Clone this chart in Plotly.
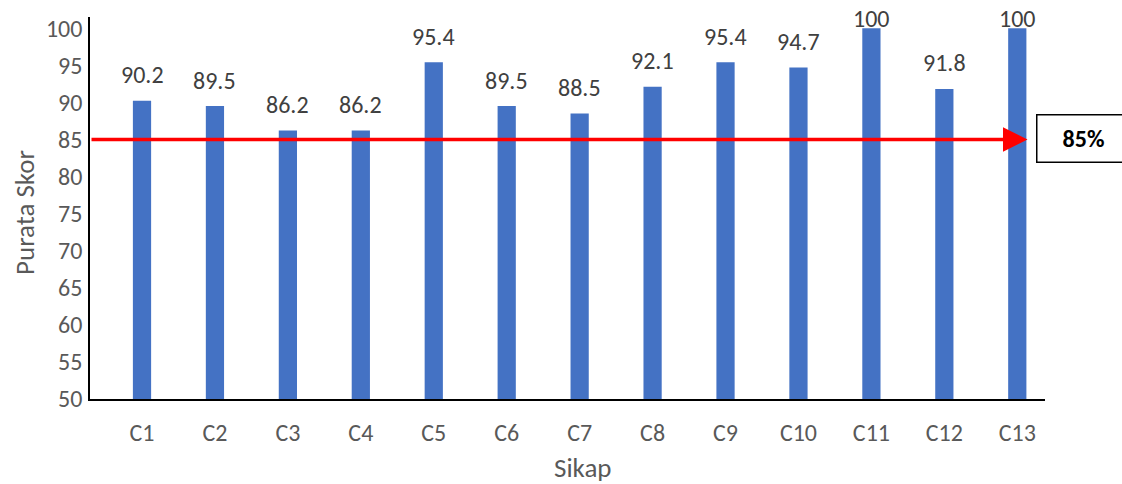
import plotly.graph_objects as go

categories = ["C1", "C2", "C3", "C4", "C5", "C6", "C7", "C8", "C9", "C10", "C11", "C12", "C13"]
scores = [90.2, 89.5, 86.2, 86.2, 95.4, 89.5, 88.5, 92.1, 95.4, 94.7, 100, 91.8, 100]
target = 85
target_label = "85%"
x_title = "Sikap"
y_title = "Purata Skor"

FONT = "Calibri, Carlito, 'Liberation Sans', Arial, sans-serif"
GREY = "#595959"

W, H = 1122, 484
L, R, T, B = 90, 77, 17, 85
plot_w = W - L - R
plot_h = H - T - B
y_lo, y_hi = 50, 101.5
px_per_unit = plot_h / (y_hi - y_lo)

x_lo, x_hi = -0.713, 12.38


def paper_x(px):
    return (px - L) / plot_w


def paper_y(py):
    return (H - B - py) / plot_h


fig = go.Figure()
fig.add_trace(go.Bar(
    x=list(range(len(categories))),
    y=scores,
    width=0.25,
    marker=dict(color="#4472C4", line=dict(width=0)),
    hoverinfo="x+y",
))

# value labels above each bar, kept inside the top of the plot area
annotations = []
for i, v in enumerate(scores):
    y_lab = min(v + 26 / px_per_unit, y_hi - 1 / px_per_unit)
    annotations.append(dict(
        x=i, y=y_lab, xref="x", yref="y", text=f"{v:g}", showarrow=False,
        font=dict(family=FONT, size=24, color="#404040"),
        xanchor="center", yanchor="middle",
    ))

# target line with arrow head
annotations.append(dict(
    x=12.14, y=target, ax=x_lo, ay=target,
    xref="x", yref="y", axref="x", ayref="y",
    text="", showarrow=True, arrowhead=2, arrowsize=1.4, arrowwidth=3.5,
    arrowcolor="#FF0000",
))

# boxed target label
annotations.append(dict(
    x=paper_x(1083), y=paper_y(138),
    xref="paper", yref="paper", text=f"<b>{target_label}</b>", showarrow=False,
    font=dict(family=FONT, size=24, color="#000000"),
    bordercolor="#000000", borderwidth=1.5, width=90, height=44,
    bgcolor="#FFFFFF", xanchor="center", yanchor="middle",
))

# axis titles
annotations.append(dict(
    x=paper_x(583), y=paper_y(467), xref="paper", yref="paper",
    text=x_title, showarrow=False, xanchor="center", yanchor="middle",
    font=dict(family=FONT, size=27, color=GREY),
))
annotations.append(dict(
    x=paper_x(24), y=paper_y(213), xref="paper", yref="paper",
    text=y_title, showarrow=False, textangle=-90, xanchor="center", yanchor="middle",
    font=dict(family=FONT, size=27, color=GREY),
))

fig.update_layout(
    width=W, height=H,
    margin=dict(l=L, r=R, t=T, b=B),
    paper_bgcolor="white", plot_bgcolor="white",
    showlegend=False,
    bargap=0.75,
    annotations=annotations,
    font=dict(family=FONT, color=GREY),
    xaxis=dict(
        range=[x_lo, x_hi],
        tickmode="array",
        tickvals=list(range(len(categories))),
        ticktext=categories,
        tickfont=dict(family=FONT, size=24, color=GREY),
        showgrid=False, zeroline=False,
        showline=True, linecolor="#000000", linewidth=1.5,
        ticks="", ticklabelstandoff=11, automargin=False,
    ),
    yaxis=dict(
        range=[y_lo, y_hi],
        tickmode="array",
        tickvals=list(range(50, 101, 5)),
        tickfont=dict(family=FONT, size=24, color=GREY),
        showgrid=False, zeroline=False,
        showline=True, linecolor="#000000", linewidth=1.5,
        ticks="", ticklabelstandoff=1, automargin=False,
    ),
)

fig.write_html("out.html")
